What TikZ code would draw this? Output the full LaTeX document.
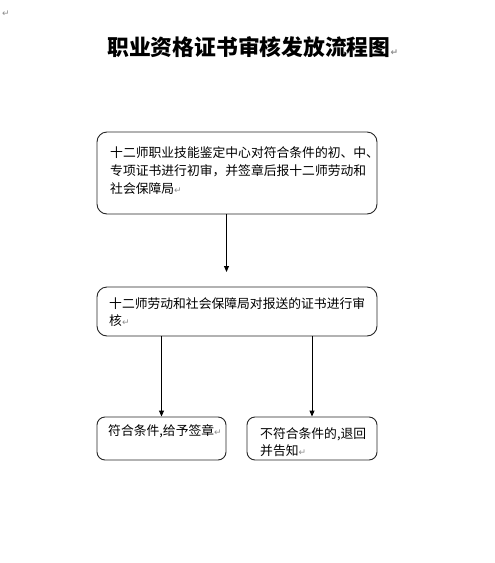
\documentclass[tikz,border=0pt]{standalone}
\usepackage{fontspec}
\newfontfamily\cjk{Noto Sans CJK SC}
\newfontfamily\markfont{DejaVu Sans}
\usetikzlibrary{arrows.meta}
\newcommand{\parmark}{{\markfont\color{black!45}\fontsize{9}{9}\selectfont ↵}}
\begin{document}
\begin{tikzpicture}[x=1pt,y=-1pt,
  box/.style={draw=black!85, line width=0.9pt, rounded corners=10pt, inner sep=0},
  smallbox/.style={box, rounded corners=8pt},
  txt/.style={anchor=base west, inner sep=0, align=left, text width=275pt,
    font=\cjk\fontsize{12.8}{18}\selectfont},
  titletxt/.style={anchor=base west, inner sep=0, font=\cjk\bfseries\fontsize{21.8}{24}\selectfont},
  arr/.style={-{Triangle[width=5pt,length=6pt]}, line width=0.9pt}]
\useasboundingbox (0,0) rectangle (495,563);
\fill[white] (0,0) rectangle (495,563);

\node[anchor=center, inner sep=0] (topmark) at (6,14) {\parmark};
\node[titletxt] (title) at (107,55.8) {职业资格证书审核发放流程图\parmark};

\node[box, minimum width=280pt, minimum height=82pt] (b1) at (237,173) {};
\node[txt] (t1) at (110,157) {十二师职业技能鉴定中心对符合条件的初、中、\\专项证书进行初审，并签章后报十二师劳动和\\社会保障局\parmark};

\node[box, minimum width=280pt, minimum height=49pt] (b2) at (237,311.5) {};
\node[txt, font=\cjk\fontsize{12.8}{17}\selectfont] (t2) at (109,308) {十二师劳动和社会保障局对报送的证书进行审\\核\parmark};

\node[smallbox, minimum width=129pt, minimum height=43pt] (b3) at (161.5,438.5) {};
\node[txt, text width=120pt] (t3) at (108,435.5) {符合条件,给予签章\parmark};

\node[smallbox, minimum width=130pt, minimum height=43pt] (b4) at (312,438.5) {};
\node[txt, text width=120pt, font=\cjk\fontsize{12.8}{17}\selectfont] (t4) at (260,438) {不符合条件的,退回\\并告知\parmark};

\coordinate (tip1) at (226.5,272);
\draw[arr] (b1.south -| tip1) -- (tip1);
\draw[arr] (b2.south -| b3.north) -- (b3.north);
\draw[arr] (b2.south -| b4.north) -- (b4.north);
\end{tikzpicture}
\end{document}
